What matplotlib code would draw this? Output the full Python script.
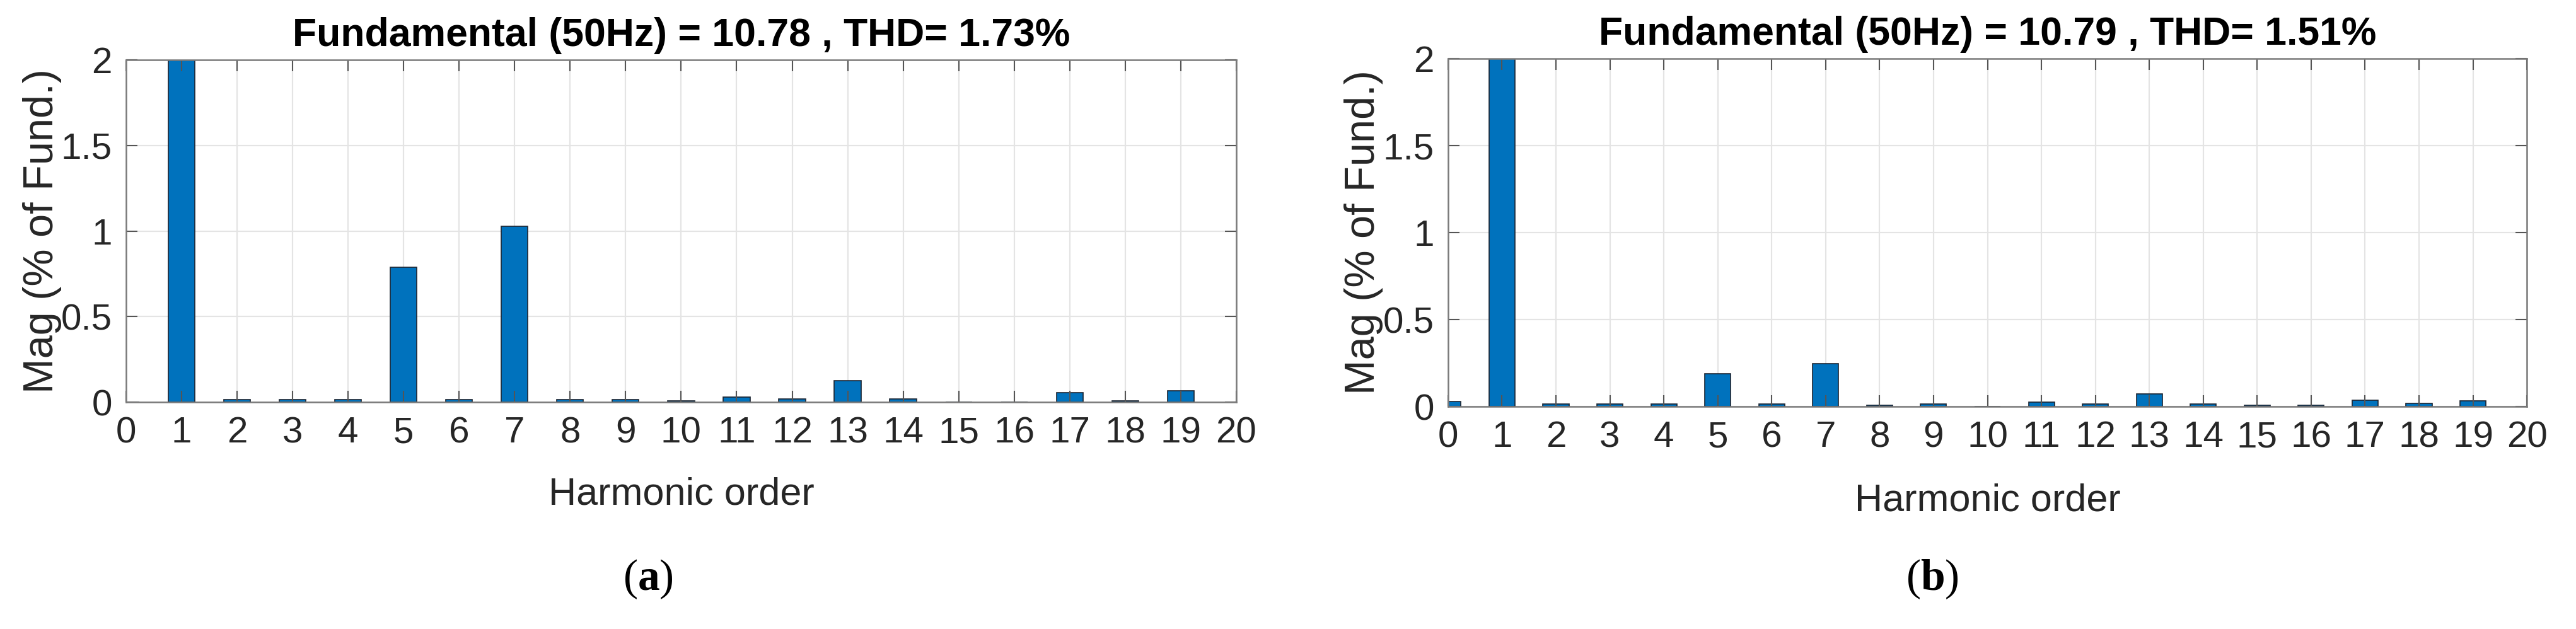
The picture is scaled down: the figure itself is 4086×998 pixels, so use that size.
import matplotlib
matplotlib.use("Agg")
import matplotlib.pyplot as plt
import numpy as np

plt.rcParams["font.family"] = ["Liberation Sans", "DejaVu Sans"]
plt.rcParams["mathtext.fontset"] = "custom"
plt.rcParams["mathtext.rm"] = "Liberation Serif"
plt.rcParams["mathtext.bf"] = "Liberation Serif:bold"

# harmonic spectra, % of fundamental (bar at order 1 = 100 %, clipped by ylim)
orders = list(range(0, 20))
mag_a = [0.0, 100.0, 0.016, 0.016, 0.016, 0.79, 0.016, 1.026, 0.016, 0.016,
         0.009, 0.031, 0.019, 0.125, 0.017, 0.0, 0.0, 0.054, 0.008, 0.068]
mag_b = [0.030, 100.0, 0.016, 0.016, 0.016, 0.19, 0.016, 0.247, 0.008, 0.016,
         0.0, 0.025, 0.016, 0.074, 0.016, 0.008, 0.008, 0.036, 0.017, 0.032]
titles = ["Fundamental (50Hz) = 10.78 , THD= 1.73%",
          "Fundamental (50Hz) = 10.79 , THD= 1.51%"]
panel_tags = ["a", "b"]
xticks = list(range(0, 21))
yticks = [0, 0.5, 1, 1.5, 2]
ytick_labels = ["0", "0.5", "1", "1.5", "2"]

BAR = "#0072BD"
EDGE = "#1c2633"
SPINE = "#7a7a7a"
TXT = "#262626"

fig = plt.figure(figsize=(40.87, 9.98), dpi=100)

rects = [
    [0.0489, 0.3607, 0.4309, 0.5441],
    [0.5620, 0.3537, 0.4187, 0.5531],
]
ylabel_x = [-0.058, -0.060]
tag_x = [0.2515, 0.7500]

for rect, mags, title, tag, lx, tx in zip(rects, [mag_a, mag_b], titles,
                                          panel_tags, ylabel_x, tag_x):
    # background axes: grid only (kept under the bars)
    bg = fig.add_axes(rect, zorder=0)
    bg.set_xlim(0, 20)
    bg.set_ylim(0, 2)
    bg.set_xticks(xticks)
    bg.set_yticks(yticks)
    bg.grid(True, color="#e4e4e4", linewidth=1.6)
    bg.tick_params(length=0, labelbottom=False, labelleft=False)
    for s in bg.spines.values():
        s.set_visible(False)

    ax = fig.add_axes(rect, zorder=1)
    ax.patch.set_alpha(0)
    ax.bar(orders, mags, width=0.48, color=BAR, edgecolor=EDGE, linewidth=1.2)
    ax.set_xlim(0, 20)
    ax.set_ylim(0, 2)
    ax.set_xticks(xticks)
    ax.set_yticks(yticks)
    ax.set_yticklabels(ytick_labels)
    ax.tick_params(direction="in", length=13, width=1.5, color="#555555",
                   top=True, right=True, labelsize=42, labelcolor=TXT, pad=16)
    for s in ax.spines.values():
        s.set_color(SPINE)
        s.set_linewidth(1.8)

    ax.set_title(title, fontsize=45, fontweight="bold", color="black", pad=16)
    ax.set_ylabel("Mag (% of Fund.)", fontsize=48, color=TXT)
    ax.yaxis.set_label_coords(lx, 0.5)
    ax.set_xlabel("Harmonic order", fontsize=44, color=TXT)
    ax.xaxis.label.set_va("baseline")
    ax.xaxis.set_label_coords(0.5, -0.30)

    fig.text(tx, 0.062, "(" + r"$\mathbf{" + tag + "}$" + ")", ha="center",
             va="baseline", fontsize=50, family="Liberation Serif", color="black")

fig.savefig("out.png", dpi=100, facecolor="white")
